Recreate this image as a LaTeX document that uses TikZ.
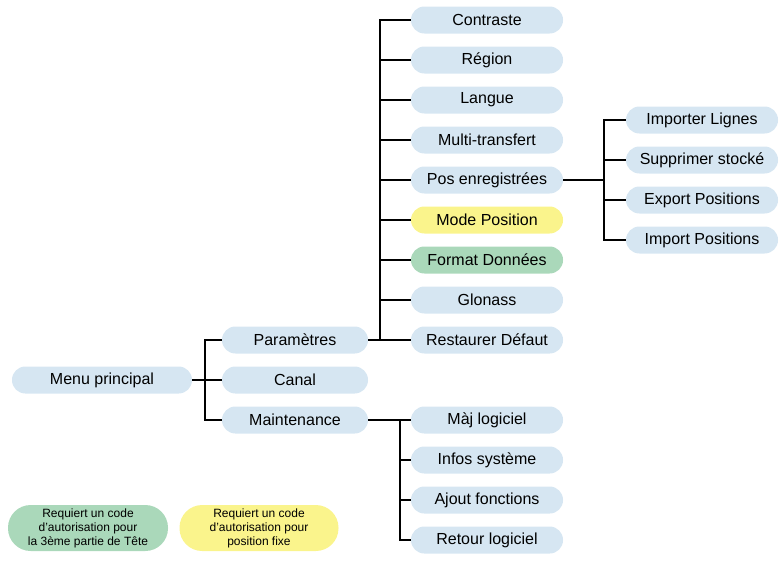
\documentclass[tikz,border=0pt]{standalone}
\usepackage{fontspec}
\setmainfont{Liberation Sans}
\definecolor{menuBlue}{RGB}{214,230,242}
\definecolor{menuYellow}{RGB}{250,244,140}
\definecolor{menuGreen}{RGB}{170,216,186}
\usetikzlibrary{positioning,calc}

\begin{document}
\begin{tikzpicture}[
  x=0.75pt,y=-0.75pt,
  node distance=9.75pt,
  item/.style={
    fill=menuBlue,
    rounded corners=10pt,
    minimum width=114pt,
    minimum height=20.25pt,
    inner sep=0pt,
    outer sep=0pt,
    align=center,
    font=\fontsize{12}{14}\selectfont
  },
  code/.style={item,fill=menuGreen},
  fixe/.style={item,fill=menuYellow},
  legend/.style={
    item,
    rounded corners=17pt,
    minimum width=120pt,
    minimum height=34.5pt,
    font=\fontsize{9}{10.5}\selectfont
  },
  link/.style={draw=black,line width=0.8pt},
  trunk/.style={draw=black,line width=1.4pt}
]
\useasboundingbox (0,0) rectangle (780,582);
% niveau 1
\node[item,minimum width=135pt] (menu) at (102,380) {Menu principal};
% niveau 2
\node[item,minimum width=109.5pt] (param) at (295,340) {Paramètres};
\node[item,minimum width=109.5pt,below=of param] (canal) {Canal};
\node[item,minimum width=109.5pt,below=of canal] (maint) {Maintenance};
% sous-menu Paramètres
\node[item] (contraste) at (487,20) {Contraste};
\node[item,below=of contraste] (region) {Région};
\node[item,below=of region] (langue) {Langue};
\node[item,below=of langue] (multi) {Multi-transfert};
\node[item,below=of multi] (posenr) {Pos enregistrées};
\node[fixe,below=of posenr] (mode) {Mode Position};
\node[code,below=of mode] (format) {Format Données};
\node[item,below=of format] (glonass) {Glonass};
\node[item,below=of glonass] (restaurer) {Restaurer Défaut};
% sous-menu Pos enregistrées
\node[item] (importer) at (702,120) {Importer Lignes};
\node[item,below=of importer] (supprimer) {Supprimer stocké};
\node[item,below=of supprimer] (export) {Export Positions};
\node[item,below=of export] (import) {Import Positions};
% sous-menu Maintenance
\node[item] (maj) at (487,420) {Màj logiciel};
\node[item,below=of maj] (infos) {Infos système};
\node[item,below=of infos] (ajout) {Ajout fonctions};
\node[item,below=of ajout] (retour) {Retour logiciel};
% legende
\node[legend,fill=menuGreen] (legcode) at (88,528) {Requiert un code\\d'autorisation pour\\la 3ème partie de Tête};
\node[legend,fill=menuYellow,minimum width=119.25pt] (legfixe) at (259,528) {Requiert un code\\d'autorisation pour\\position fixe};
% liaisons
\coordinate (jmenu) at ($(menu.east)+(13,0)$);
\coordinate (jparam) at ($(param.east)+(12,0)$);
\coordinate (jmaint) at ($(maint.east)+(32,0)$);
\coordinate (jpos) at ($(posenr.east)+(41,0)$);
\draw[link] (menu.east) -- (jmenu);
\draw[link] (jmenu) |- (param.west);
\draw[link] (jmenu) |- (canal.west);
\draw[link] (jmenu) |- (maint.west);
\draw[trunk] (param.east) -- (jparam);
\draw[trunk] (jparam |- contraste) -- (jparam);
\draw[link] (jparam) |- (contraste.west);
\draw[link] (jparam) |- (region.west);
\draw[link] (jparam) |- (langue.west);
\draw[link] (jparam) |- (multi.west);
\draw[link] (jparam) |- (posenr.west);
\draw[link] (jparam) |- (mode.west);
\draw[link] (jparam) |- (format.west);
\draw[link] (jparam) |- (glonass.west);
\draw[link] (jparam) |- (restaurer.west);
\draw[trunk] (posenr.east) -- (jpos);
\draw[link] (jpos) |- (importer.west);
\draw[link] (jpos) |- (supprimer.west);
\draw[link] (jpos) |- (export.west);
\draw[link] (jpos) |- (import.west);
\draw[link] (maint.east) -- (jmaint);
\draw[link] (jmaint) |- (maj.west);
\draw[link] (jmaint) |- (infos.west);
\draw[link] (jmaint) |- (ajout.west);
\draw[link] (jmaint) |- (retour.west);
\end{tikzpicture}
\end{document}
